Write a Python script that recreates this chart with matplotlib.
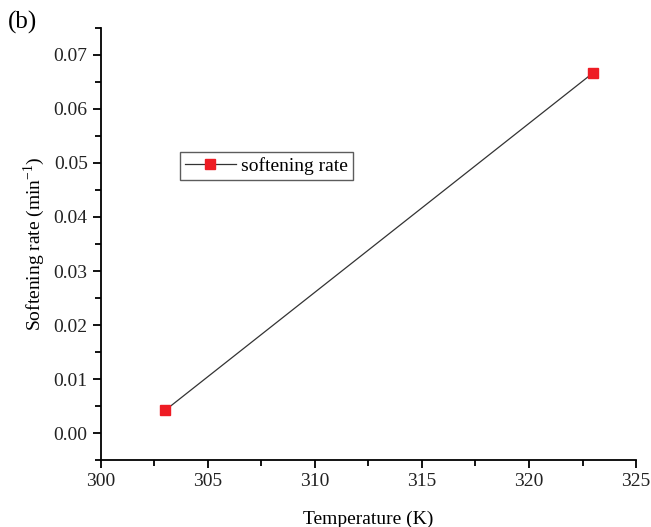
import matplotlib
matplotlib.use('Agg')
import matplotlib.pyplot as plt
from matplotlib.ticker import MultipleLocator

plt.rcParams['font.family'] = ['Liberation Serif', 'DejaVu Serif']
plt.rcParams['mathtext.fontset'] = 'custom'
plt.rcParams['mathtext.rm'] = 'Liberation Serif'

temperature = [303, 323]
softening = [0.0042, 0.0667]

fig = plt.figure(figsize=(6.51, 5.27), dpi=100)
ax = fig.add_axes([0.155, 0.127, 0.822, 0.820])

ax.plot(temperature, softening, color='#333333', lw=0.9, marker='s', ms=7.5,
        mfc='#ee1c24', mec='#ee1c24', label='softening rate')

ax.set_xlim(300, 325)
ax.set_ylim(-0.005, 0.075)
ax.xaxis.set_major_locator(MultipleLocator(5))
ax.xaxis.set_minor_locator(MultipleLocator(2.5))
ax.yaxis.set_major_locator(MultipleLocator(0.01))
ax.yaxis.set_minor_locator(MultipleLocator(0.005))
ax.yaxis.set_major_formatter(plt.FormatStrFormatter('%.2f'))

for s in ['top', 'right']:
    ax.spines[s].set_visible(False)
for s in ['left', 'bottom']:
    ax.spines[s].set_linewidth(1.3)
ax.tick_params(which='major', direction='out', length=6, width=1.3, labelsize=14,
               labelcolor='#222222')
ax.tick_params(which='minor', direction='out', length=4, width=1.3)

ax.set_xlabel('Temperature (K)', fontsize=14, labelpad=15)
ax.set_ylabel('Softening rate (min$^{\\mathrm{-1}}$)', fontsize=14, labelpad=5)

leg = ax.legend(loc='upper left', bbox_to_anchor=(0.148, 0.713), fontsize=14,
                fancybox=False, edgecolor='#333333', handlelength=2.6,
                borderpad=0.25, handletextpad=0.3, borderaxespad=0)
leg.get_frame().set_linewidth(1.0)

fig.text(0.012, 0.945, '(b)', fontsize=18)

fig.savefig('out.png', dpi=100)
